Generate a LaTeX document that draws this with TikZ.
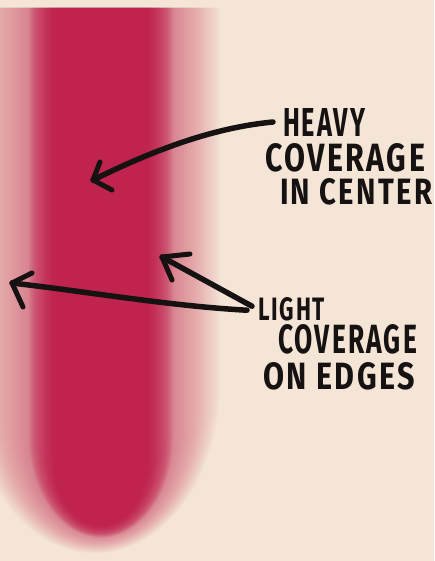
\documentclass[tikz,border=0pt]{standalone}
\usepackage{fontspec}
\usepackage{graphicx}
\newfontfamily\handfont[LetterSpace=8]{Fira Sans}
\definecolor{bg}{RGB}{244,229,214}
\definecolor{paint}{RGB}{192,18,68}
\definecolor{ink}{RGB}{22,18,18}
\tikzset{
  halo/.style={fill=paint, fill opacity=0.018},
  core/.style={fill=paint, fill opacity=0.075},
  marker/.style={draw=ink, line width=5.5pt, line cap=round, line join=round},
  barb/.style={draw=ink, line width=5pt, line cap=round, line join=round},
  handtxt/.style={inner sep=0pt, outer sep=0pt, anchor=south west, text=ink, font=\handfont\bfseries},
}
% #1 style, #2 half width, #3 bottom, #4 vertical radius, #5 centre x
\newcommand{\stripelayer}[5]{%
  \path[#1] (#5-#2, 8) -- (#5-#2, #3-#4)
    .. controls (#5-#2, #3-0.45*#4) and (#5-0.55*#2, #3) .. (#5, #3)
    .. controls (#5+0.55*#2, #3) and (#5+#2, #3-0.45*#4) .. (#5+#2, #3-#4)
    -- (#5+#2, 8) -- cycle;}
\begin{document}
\begin{tikzpicture}[x=1pt, y=-1pt]
\useasboundingbox (0,0) rectangle (434,561);
\clip (0,0) rectangle (434,561);
\fill[bg] (0,0) rectangle (434,561);
% spray paint stripe: soft halo then dense core
\foreach \i in {0,...,29}{
  \pgfmathsetmacro\w{125-2*\i}
  \pgfmathsetmacro\yb{512+0.33*\w}
  \pgfmathsetmacro\r{1.35*\w}
  \pgfmathsetmacro\cx{95+0.2*\i}
  \stripelayer{halo}{\w}{\yb}{\r}{\cx}
}
\foreach \i in {0,...,19}{
  \pgfmathsetmacro\w{72-1.35*\i}
  \pgfmathsetmacro\yb{505+0.45*\w}
  \pgfmathsetmacro\r{1.4*\w}
  \stripelayer{core}{\w}{\yb}{\r}{101}
}
% labels
\node[handtxt] (heavy)  at (283,137) {\resizebox{82pt}{28pt}{HEAVY}};
\node[handtxt] (cov1)   at (265,172) {\resizebox{160pt}{28pt}{COVERAGE}};
\node[handtxt] (center) at (280,205) {\resizebox{152pt}{26pt}{IN CENTER}};
\node[handtxt] (light)  at (258,321) {\resizebox{67pt}{23pt}{LIGHT}};
\node[handtxt] (cov2)   at (278,354) {\resizebox{139pt}{29pt}{COVERAGE}};
\node[handtxt] (edges)  at (263,390) {\resizebox{152pt}{27pt}{ON EDGES}};
% arrow tips
\coordinate (tipA) at (93,180);
\coordinate (tipB) at (12,283);
\coordinate (tipC) at (162,257);
% arrows
\draw[marker] ([xshift=-10pt,yshift=1pt]heavy.west) .. controls (210,128) and (150,152) .. (tipA);
\draw[barb] (100,162) -- (tipA) -- (112,190);
\draw[marker] ([xshift=-11pt,yshift=-1pt]light.west) .. controls (170,306) and (90,292) .. (tipB);
\draw[barb] (32,273) -- (tipB) -- (23,307);
\draw[marker] ([xshift=-6pt,yshift=3pt]light.west) -- (tipC);
\draw[barb] (190,254) -- (tipC) -- (172,280);
\end{tikzpicture}
\end{document}
